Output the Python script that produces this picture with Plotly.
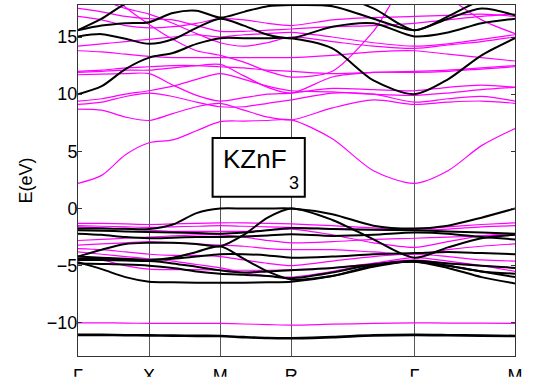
import plotly.graph_objects as go

# k-path distances (units of pi/a): G-X-M-R-G-M, segments sampled at thirds
K_PATH = [0, 0.333, 0.667, 1, 1.333, 1.667, 2, 2.333, 2.667, 3,
          3.577, 4.155, 4.732, 5.203, 5.675, 6.146]
TICK_K = [0, 1, 2, 3, 4.732, 6.146]
TICK_LABELS = ["\u0393", "X", "M", "R", "\u0393", "M"]

# black bands (eV)
BD = [-11.05, -11.05, -11.08, -11.10, -11.12, -11.14, -11.15, -11.25, -11.33, -11.35, -11.25, -11.10, -11.05, -11.08, -11.12, -11.15]
BV1 = [-1.75, -1.75, -1.78, -1.80, -1.40, -0.40, 0.00, 0.00, 0.00, 0.00, -0.50, -1.50, -1.75, -1.50, -0.80, 0.00]
BV2 = [-1.90, -1.95, -2.00, -2.05, -2.10, -2.15, -2.20, -2.10, -1.90, -1.70, -1.80, -1.85, -1.90, -2.00, -2.10, -2.20]
BV3 = [-4.20, -3.60, -3.10, -3.00, -3.00, -3.10, -3.30, -2.30, -0.80, 0.00, -1.00, -2.70, -4.30, -3.40, -2.60, -2.30]
BV4 = [-2.20, -2.30, -2.50, -2.60, -2.55, -2.50, -2.50, -2.45, -2.35, -2.25, -2.40, -2.30, -2.10, -2.20, -2.50, -2.70]
BV5 = [-4.20, -4.30, -4.40, -4.50, -4.30, -3.80, -3.30, -4.40, -5.50, -6.20, -5.90, -5.10, -4.60, -5.00, -5.50, -6.00]
BV6 = [-4.50, -4.50, -4.55, -4.60, -4.80, -5.10, -5.40, -5.60, -5.50, -5.40, -5.20, -4.90, -4.60, -4.80, -5.00, -5.20]
BV7 = [-4.70, -5.30, -6.00, -6.40, -6.45, -6.50, -6.50, -6.50, -6.45, -6.40, -5.90, -5.00, -4.65, -5.20, -6.00, -6.55]
BV8 = [-4.80, -4.85, -4.90, -5.00, -5.20, -5.50, -5.70, -5.80, -5.90, -6.10, -5.60, -4.90, -4.65, -5.00, -5.50, -5.70]
BV9 = [-4.40, -4.40, -4.45, -4.50, -4.40, -4.20, -4.00, -4.00, -4.10, -4.30, -4.20, -4.00, -3.90, -3.80, -3.90, -4.00]
BC1 = [10.0, 10.7, 12.2, 13.2, 13.6, 14.4, 14.9, 14.9, 14.9, 14.9, 14.0, 11.2, 10.0, 11.3, 13.4, 14.9]
BC2 = [15.05, 15.25, 14.85, 14.4, 14.8, 15.8, 16.6, 16.0, 15.2, 14.9, 15.9, 16.2, 15.05, 15.4, 16.2, 16.6]
BC3 = [15.6, 16.0, 16.2, 16.3, 17.1, 17.3, 16.7, 17.2, 17.7, 17.8, 17.7, 16.6, 15.6, 16.6, 17.5, 16.9]
BC4 = [15.6, 16.6, 17.9, 18.5, 18.8, 18.5, 18.2, 18.5, 18.8, 19.0, 18.8, 17.5, 15.6, 16.8, 18.2, 18.5]

# magenta bands (eV)
MD = [-10.0, -10.0, -10.02, -10.05, -10.05, -10.05, -10.05, -10.1, -10.15, -10.2, -10.12, -10.05, -10.0, -10.02, -10.03, -10.05]
MV1 = [-1.30, -1.30, -1.35, -1.40, -1.35, -1.30, -1.25, -1.25, -1.30, -1.35, -1.50, -1.70, -1.80, -1.60, -1.40, -1.25]
MV2 = [-1.50, -1.55, -1.60, -1.65, -1.60, -1.55, -1.50, -1.55, -1.60, -1.65, -1.75, -1.85, -1.90, -1.80, -1.60, -1.50]
MV3 = [-1.60, -1.70, -1.80, -1.90, -2.00, -2.00, -2.00, -2.00, -1.90, -1.80, -2.30, -3.00, -3.40, -2.90, -2.40, -2.20]
MV4 = [-2.80, -2.70, -2.60, -2.50, -2.40, -2.30, -2.30, -2.50, -2.80, -3.00, -2.90, -2.70, -2.60, -2.50, -2.40, -2.30]
MV5 = [-3.20, -3.10, -3.00, -2.90, -3.00, -3.10, -3.20, -3.30, -3.50, -3.60, -3.60, -3.80, -4.00, -3.60, -3.30, -3.10]
MV6 = [-3.50, -3.60, -3.80, -4.00, -4.10, -4.10, -4.20, -4.50, -4.80, -5.00, -4.60, -4.20, -4.00, -4.20, -4.50, -4.60]
MV7 = [-4.20, -4.50, -5.00, -5.30, -5.35, -5.35, -5.40, -5.40, -5.40, -5.35, -5.20, -4.80, -4.50, -4.80, -5.00, -5.20]
MV8 = [-3.80, -4.00, -4.20, -4.40, -4.60, -4.90, -5.20, -5.60, -5.90, -6.00, -5.50, -4.80, -4.30, -4.60, -5.00, -5.50]
MC1 = [2.2, 2.9, 4.7, 5.75, 6.0, 6.8, 7.6, 7.65, 7.7, 7.75, 6.1, 3.3, 2.2, 3.3, 5.5, 7.0]
MC2 = [8.7, 8.6, 8.0, 7.7, 8.3, 8.9, 9.2, 8.6, 8.0, 7.75, 8.8, 9.5, 9.1, 9.3, 9.4, 9.2]
MC3 = [9.1, 9.3, 9.8, 10.1, 9.8, 9.3, 8.9, 8.9, 9.2, 9.5, 10.1, 10.0, 9.3, 9.6, 9.8, 9.4]
MC4 = [11.7, 11.75, 11.8, 11.8, 10.8, 9.9, 9.4, 9.7, 10.0, 10.1, 10.5, 10.4, 10.3, 10.6, 10.8, 10.6]
MC5 = [11.9, 12.0, 12.1, 12.1, 12.3, 12.5, 12.6, 11.6, 10.6, 10.1, 11.5, 11.9, 11.9, 12.0, 12.2, 12.4]
MC6 = [13.8, 13.7, 13.5, 13.3, 13.2, 13.2, 13.2, 13.2, 13.2, 13.2, 13.4, 13.7, 13.8, 13.5, 13.2, 12.9]
MC7 = [12.0, 12.1, 12.3, 12.4, 12.5, 12.5, 12.4, 12.3, 12.1, 12.0, 11.8, 11.9, 12.0, 12.1, 12.3, 12.5]
MC8 = [14.2, 14.4, 14.6, 14.8, 15.0, 15.2, 15.0, 15.2, 15.3, 15.4, 15.0, 14.5, 14.2, 14.4, 14.8, 15.2]
MC9 = [20.5, 19.5, 17.6, 16.1, 14.8, 13.8, 13.4, 12.8, 12.0, 11.5, 12.0, 15.5, 20.5, 18.5, 16.5, 15.3]
MC10 = [16.8, 16.5, 16.0, 15.8, 15.9, 16.2, 16.6, 16.5, 16.2, 16.0, 16.5, 16.7, 16.8, 16.9, 17.0, 16.8]
MC11 = [17.5, 17.2, 16.8, 16.6, 16.5, 16.0, 15.5, 15.5, 15.6, 15.7, 15.9, 16.0, 16.2, 16.5, 16.8, 17.0]
MC12 = [18.5, 18.2, 17.5, 17.0, 16.2, 15.3, 14.5, 14.2, 14.5, 15.0, 14.6, 14.2, 14.0, 14.3, 14.6, 15.0]
MC13 = [9.4, 9.6, 10.0, 10.3, 10.7, 11.3, 11.8, 11.3, 10.7, 10.3, 10.2, 10.0, 9.9, 10.1, 10.4, 10.6]

black_bands = [BD, BV1, BV2, BV3, BV4, BV5, BV6, BV7, BV8, BV9, BC1, BC2, BC3, BC4]
magenta_bands = [MD, MV1, MV2, MV3, MV4, MV5, MV6, MV7, MV8,
                 MC1, MC2, MC3, MC4, MC5, MC6, MC7, MC8, MC9, MC10, MC11, MC12, MC13]

FONT = "Liberation Sans, Arial, sans-serif"

fig = go.Figure()
for band in magenta_bands:
    fig.add_trace(go.Scatter(
        x=K_PATH, y=band, mode="lines",
        line=dict(color="#ff00ff", width=1.2, shape="spline", smoothing=0.8),
        hoverinfo="skip", showlegend=False,
    ))
for band in black_bands:
    fig.add_trace(go.Scatter(
        x=K_PATH, y=band, mode="lines",
        line=dict(color="black", width=2.6 if band is BD else 2, shape="spline", smoothing=0.8),
        hoverinfo="skip", showlegend=False,
    ))

# label box
fig.add_shape(type="rect", xref="paper", yref="paper",
              x0=0.308, x1=0.519, y0=0.454, y1=0.621,
              line=dict(color="black", width=2), fillcolor="white", layer="above")
fig.add_annotation(text="KZnF", xref="paper", yref="paper", x=0.327, y=0.56,
                   xanchor="left", yanchor="middle", showarrow=False,
                   font=dict(family=FONT, size=26, color="black"))
fig.add_annotation(text="3", xref="paper", yref="paper", x=0.478, y=0.493,
                   xanchor="left", yanchor="middle", showarrow=False,
                   font=dict(family=FONT, size=18, color="black"))

# bottom of the k labels is cropped in the original figure
fig.add_shape(type="rect", xref="paper", yref="paper",
              x0=-0.3, x1=1.2, y0=-0.2, y1=-0.059,
              line=dict(width=0), fillcolor="white", layer="above")

fig.update_layout(
    width=545, height=390,
    paper_bgcolor="white", plot_bgcolor="white",
    margin=dict(l=78, r=30, t=4, b=33),
    font=dict(family=FONT, size=18, color="black"),
    xaxis=dict(
        range=[0, 6.146], tickvals=TICK_K, ticktext=TICK_LABELS,
        showgrid=True, gridcolor="#555555", gridwidth=1,
        showline=True, linecolor="#333333", linewidth=1, mirror=True,
        ticks="", zeroline=False, tickfont=dict(size=18),
        ticklabelstandoff=3,
    ),
    yaxis=dict(
        range=[-12.9, 17.8], tickvals=[-10, -5, 0, 5, 10, 15],
        ticktext=["\u221210", "\u22125", "0", "5", "10", "15"],
        showgrid=False, zeroline=False,
        showline=True, linecolor="#333333", linewidth=1, mirror="ticks",
        ticks="inside", ticklen=4, tickcolor="#333333",
        title=dict(text="E(eV)", font=dict(size=18), standoff=9),
        tickfont=dict(size=18), ticklabelstandoff=-4,
    ),
)

fig.write_html("out.html", config={"displayModeBar": False},
               post_script="document.body.style.margin='0';")
